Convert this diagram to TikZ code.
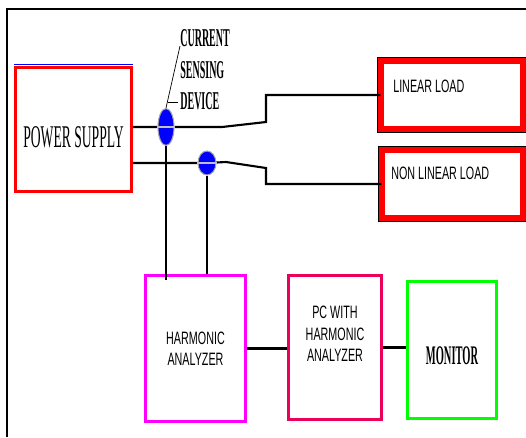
\documentclass[tikz,border=0pt]{standalone}
\usepackage{fontspec}
\newfontfamily\condserif[FakeStretch=0.43]{Liberation Serif}
\newfontfamily\narrowserif[FakeStretch=0.39]{Liberation Serif}
\newfontfamily\condsans[FakeStretch=0.6]{Liberation Sans}
\usetikzlibrary{shapes.geometric}
\definecolor{pcred}{RGB}{235,0,90}
\definecolor{hamagenta}{RGB}{255,0,255}
\definecolor{mongreen}{RGB}{0,255,0}
\begin{document}
\begin{tikzpicture}[
        x=0.02cm, y=-0.02cm,
        % boxes of the measuring chain
        block/.style={rectangle, draw, fill=white, inner sep=0pt, line width=1.7pt},
        % the two loads have a red band with a thin black edge
        loadbox/.style={rectangle, draw=black, line width=0.4pt, double=red, double distance=3.4pt,
            fill=white, inner sep=0pt, minimum height=1.37cm},
        sensor/.style={ellipse, draw=gray!70, line width=0.6pt, fill=blue, inner sep=0pt},
        wire/.style={line width=1.2pt},
        lead/.style={line width=1.7pt},
        sanstext/.style={font=\condsans\fontsize{10.2}{12.2}\selectfont, inner sep=0pt, align=center}
    ]
    \useasboundingbox (0,0) rectangle (526,437);
    \draw[line width=1.1pt] (7,437) -- (7,9) -- (526,9);

    \node[block, draw=red, minimum width=2.32cm, minimum height=2.48cm, text height=0.74cm,
        font=\condserif\fontsize{18}{20}\selectfont] (ps) at (73.5,129.5) {POWER SUPPLY};
    \draw[blue, line width=0.9pt] ([yshift=0.028cm]ps.north west) -- ([yshift=0.028cm]ps.north east);

    \node[loadbox, minimum width=2.85cm, label={[sanstext, anchor=west, xshift=0.25cm, yshift=0.17cm]west:LINEAR LOAD}]
        (ll) at (452,95) {};
    \node[loadbox, minimum width=2.83cm, label={[sanstext, anchor=west, xshift=0.19cm, yshift=0.21cm]west:NON LINEAR LOAD}]
        (nll) at (452.5,184) {};

    \node[block, sanstext, draw=hamagenta, line width=1.7pt, minimum width=2.0cm, minimum height=2.92cm]
        (ha) at (195.5,348.5) {HARMONIC\\ANALYZER};
    \node[block, draw=pcred, minimum width=1.86cm, minimum height=2.88cm,
        label={[sanstext, yshift=0.27cm]center:PC WITH\\HARMONIC\\ANALYZER}] (pc) at (335,347.5) {};
    \node[block, draw=mongreen, minimum width=1.78cm, minimum height=2.74cm, text height=0.6cm,
        font=\narrowserif\bfseries\fontsize{15.3}{18}\selectfont] (mon) at (452,350) {MONITOR};

    % supply lines to the loads
    \coordinate (c1) at (166,127);
    \coordinate (c2) at (207,163);
    \draw[wire] (ps.east |- c1) -- (c1) -- (222,127) -- (266,122) |- (ll.west);
    \draw[wire] (ps.east |- c2) -- (c2) -- (226,162) -- (266,168) |- (nll.west);

    \node[sensor, minimum width=0.32cm, minimum height=0.74cm] (s1) at (c1) {};
    \node[sensor, minimum width=0.36cm, minimum height=0.48cm] (s2) at (c2) {};
    \draw[gray!50, line width=0.8pt] (s1.west) -- (s1.east);
    \draw[gray!50, line width=0.8pt] (s2.west) -- (s2.east);

    % sensor leads and data path
    \draw[lead] (s1.south) -- ([yshift=-0.12cm]s1.south |- ha.north);
    \draw[lead] (s2.south) -- (s2.south |- ha.north);
    \draw[wire] (ha.east) -- (ha.east -| pc.west);
    \draw[wire] (pc.east) -- (pc.east -| mon.west);

    \node[anchor=north west, inner sep=0pt, align=left,
        font=\narrowserif\bfseries\fontsize{14.6}{18.1}\selectfont] (sdev) at (180,29) {CURRENT\\SENSING\\DEVICE};
    \draw[thin] (s1.north) -- ([yshift=-0.34cm]sdev.north west);
    \draw[thin] ([shift={(-2,-8)}]sdev.south west) -- ++(-10,0);
\end{tikzpicture}
\end{document}
